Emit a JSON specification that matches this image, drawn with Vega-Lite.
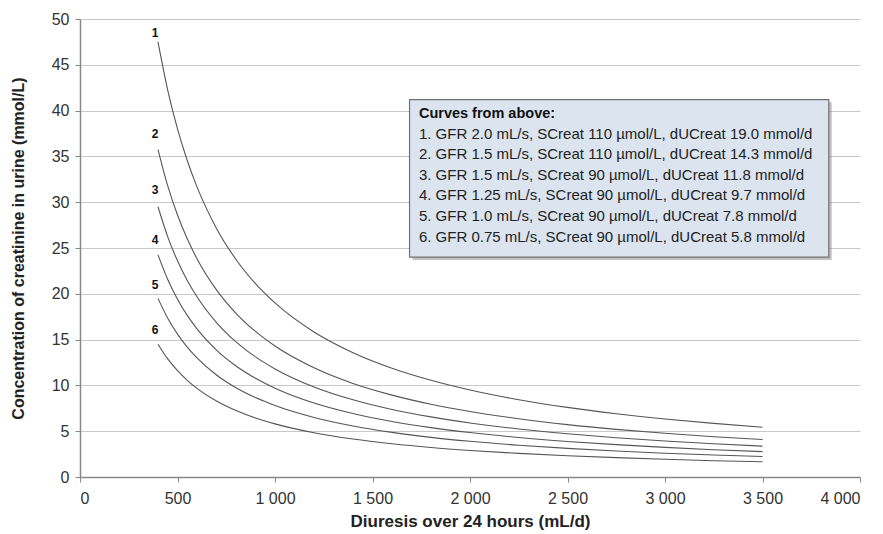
{
  "$schema": "https://vega.github.io/schema/vega-lite/v6.json",
  "width": 780,
  "height": 458,
  "autosize": {"type": "none"},
  "padding": {"left": 80, "top": 19, "right": 23, "bottom": 57},
  "background": "white",
  "config": {
    "font": "Liberation Sans",
    "view": {"stroke": null}
  },
  "datasets": {
    "curves": [
      {"x":400,"k":"1","c":47.5},{"x":450,"k":"1","c":42.22},{"x":500,"k":"1","c":38},{"x":550,"k":"1","c":34.55},{"x":600,"k":"1","c":31.67},{"x":700,"k":"1","c":27.14},{"x":800,"k":"1","c":23.75},{"x":900,"k":"1","c":21.11},{"x":1000,"k":"1","c":19},{"x":1200,"k":"1","c":15.83},{"x":1400,"k":"1","c":13.57},{"x":1600,"k":"1","c":11.875},{"x":1800,"k":"1","c":10.56},{"x":2000,"k":"1","c":9.5},{"x":2250,"k":"1","c":8.44},{"x":2500,"k":"1","c":7.6},{"x":2750,"k":"1","c":6.91},{"x":3000,"k":"1","c":6.33},{"x":3250,"k":"1","c":5.85},{"x":3500,"k":"1","c":5.43},
      {"x":400,"k":"2","c":35.75},{"x":450,"k":"2","c":31.78},{"x":500,"k":"2","c":28.6},{"x":550,"k":"2","c":26.0},{"x":600,"k":"2","c":23.83},{"x":700,"k":"2","c":20.43},{"x":800,"k":"2","c":17.875},{"x":900,"k":"2","c":15.89},{"x":1000,"k":"2","c":14.3},{"x":1200,"k":"2","c":11.92},{"x":1400,"k":"2","c":10.21},{"x":1600,"k":"2","c":8.94},{"x":1800,"k":"2","c":7.94},{"x":2000,"k":"2","c":7.15},{"x":2250,"k":"2","c":6.36},{"x":2500,"k":"2","c":5.72},{"x":2750,"k":"2","c":5.2},{"x":3000,"k":"2","c":4.77},{"x":3250,"k":"2","c":4.4},{"x":3500,"k":"2","c":4.09},
      {"x":400,"k":"3","c":29.5},{"x":450,"k":"3","c":26.22},{"x":500,"k":"3","c":23.6},{"x":550,"k":"3","c":21.45},{"x":600,"k":"3","c":19.67},{"x":700,"k":"3","c":16.86},{"x":800,"k":"3","c":14.75},{"x":900,"k":"3","c":13.11},{"x":1000,"k":"3","c":11.8},{"x":1200,"k":"3","c":9.83},{"x":1400,"k":"3","c":8.43},{"x":1600,"k":"3","c":7.375},{"x":1800,"k":"3","c":6.56},{"x":2000,"k":"3","c":5.9},{"x":2250,"k":"3","c":5.24},{"x":2500,"k":"3","c":4.72},{"x":2750,"k":"3","c":4.29},{"x":3000,"k":"3","c":3.93},{"x":3250,"k":"3","c":3.63},{"x":3500,"k":"3","c":3.37},
      {"x":400,"k":"4","c":24.25},{"x":450,"k":"4","c":21.56},{"x":500,"k":"4","c":19.4},{"x":550,"k":"4","c":17.64},{"x":600,"k":"4","c":16.17},{"x":700,"k":"4","c":13.86},{"x":800,"k":"4","c":12.125},{"x":900,"k":"4","c":10.78},{"x":1000,"k":"4","c":9.7},{"x":1200,"k":"4","c":8.08},{"x":1400,"k":"4","c":6.93},{"x":1600,"k":"4","c":6.06},{"x":1800,"k":"4","c":5.39},{"x":2000,"k":"4","c":4.85},{"x":2250,"k":"4","c":4.31},{"x":2500,"k":"4","c":3.88},{"x":2750,"k":"4","c":3.53},{"x":3000,"k":"4","c":3.23},{"x":3250,"k":"4","c":2.98},{"x":3500,"k":"4","c":2.77},
      {"x":400,"k":"5","c":19.5},{"x":450,"k":"5","c":17.33},{"x":500,"k":"5","c":15.6},{"x":550,"k":"5","c":14.18},{"x":600,"k":"5","c":13.0},{"x":700,"k":"5","c":11.14},{"x":800,"k":"5","c":9.75},{"x":900,"k":"5","c":8.67},{"x":1000,"k":"5","c":7.8},{"x":1200,"k":"5","c":6.5},{"x":1400,"k":"5","c":5.57},{"x":1600,"k":"5","c":4.875},{"x":1800,"k":"5","c":4.33},{"x":2000,"k":"5","c":3.9},{"x":2250,"k":"5","c":3.47},{"x":2500,"k":"5","c":3.12},{"x":2750,"k":"5","c":2.84},{"x":3000,"k":"5","c":2.6},{"x":3250,"k":"5","c":2.4},{"x":3500,"k":"5","c":2.23},
      {"x":400,"k":"6","c":14.5},{"x":450,"k":"6","c":12.89},{"x":500,"k":"6","c":11.6},{"x":550,"k":"6","c":10.55},{"x":600,"k":"6","c":9.67},{"x":700,"k":"6","c":8.29},{"x":800,"k":"6","c":7.25},{"x":900,"k":"6","c":6.44},{"x":1000,"k":"6","c":5.8},{"x":1200,"k":"6","c":4.83},{"x":1400,"k":"6","c":4.14},{"x":1600,"k":"6","c":3.625},{"x":1800,"k":"6","c":3.22},{"x":2000,"k":"6","c":2.9},{"x":2250,"k":"6","c":2.58},{"x":2500,"k":"6","c":2.32},{"x":2750,"k":"6","c":2.11},{"x":3000,"k":"6","c":1.93},{"x":3250,"k":"6","c":1.78},{"x":3500,"k":"6","c":1.66}
    ],
    "labels": [
      {"x":385,"y":48.5,"t":"1"},
      {"x":385,"y":37.5,"t":"2"},
      {"x":385,"y":31.3,"t":"3"},
      {"x":385,"y":25.9,"t":"4"},
      {"x":385,"y":21.0,"t":"5"},
      {"x":385,"y":16.0,"t":"6"}
    ],
    "box": [
      {"x":1690,"x2":3840,"y":41.2,"y2":24.0}
    ],
    "shadow": [
      {"x":1705,"x2":3855,"y":40.9,"y2":23.7}
    ],
    "boxtitle": [
      {"x":1738,"y":39.63,"t":"Curves from above:"}
    ],
    "boxtext": [
      {"x":1738,"y":37.45,"t":"1. GFR 2.0 mL/s, SCreat 110 µmol/L, dUCreat 19.0 mmol/d"},
      {"x":1738,"y":35.26,"t":"2. GFR 1.5 mL/s, SCreat 110 µmol/L, dUCreat 14.3 mmol/d"},
      {"x":1738,"y":32.97,"t":"3. GFR 1.5 mL/s, SCreat 90 µmol/L, dUCreat 11.8 mmol/d"},
      {"x":1738,"y":30.79,"t":"4. GFR 1.25 mL/s, SCreat 90 µmol/L, dUCreat 9.7 mmol/d"},
      {"x":1738,"y":28.49,"t":"5. GFR 1.0 mL/s, SCreat 90 µmol/L, dUCreat 7.8 mmol/d"},
      {"x":1738,"y":26.2,"t":"6. GFR 0.75 mL/s, SCreat 90 µmol/L, dUCreat 5.8 mmol/d"}
    ]
  },
  "layer": [
    {
      "data": {"name": "curves"},
      "mark": {"type": "line", "interpolate": "monotone", "color": "#555555", "strokeWidth": 1.1},
      "encoding": {
        "x": {
          "field": "x", "type": "quantitative",
          "scale": {"domain": [0, 4000], "nice": false},
          "axis": {
            "title": "Diuresis over 24 hours (mL/d)",
            "values": [0,500,1000,1500,2000,2500,3000,3500,4000],
            "labelExpr": "replace(format(datum.value, ','), ',', ' ')",
            "grid": false,
            "domainColor": "#888888", "domainWidth": 1.5,
            "tickColor": "#888888", "tickSize": 5, "tickWidth": 1,
            "labelFontSize": 16, "labelColor": "#333333", "labelPadding": 8,
            "labelFont": "Liberation Sans",
            "titleFontSize": 17, "titleFontWeight": "bold", "titleColor": "#222222",
            "titlePadding": 7, "titleFont": "Liberation Sans"
          }
        },
        "y": {
          "field": "c", "type": "quantitative",
          "scale": {"domain": [0, 50], "nice": false},
          "axis": {
            "title": "Concentration of creatinine in urine (mmol/L)",
            "values": [0,5,10,15,20,25,30,35,40,45,50],
            "grid": true, "gridColor": "#c8c8c8", "gridWidth": 1,
            "domainColor": "#888888", "domainWidth": 1.5,
            "tickColor": "#888888", "tickSize": 5, "tickWidth": 1,
            "labelFontSize": 16, "labelColor": "#333333", "labelPadding": 6,
            "labelFont": "Liberation Sans",
            "titleFontSize": 16, "titleFontWeight": "bold", "titleColor": "#222222",
            "titlePadding": 25, "titleFont": "Liberation Sans"
          }
        },
        "detail": {"field": "k"}
      }
    },
    {
      "data": {"name": "labels"},
      "mark": {"type": "text", "fontWeight": "bold", "fontSize": 12, "color": "#111111", "align": "center", "baseline": "middle"},
      "encoding": {
        "x": {"field": "x", "type": "quantitative"},
        "y": {"field": "y", "type": "quantitative"},
        "text": {"field": "t"}
      }
    },
    {
      "data": {"name": "shadow"},
      "mark": {"type": "rect", "fill": "#9a9a9a", "opacity": 0.6},
      "encoding": {
        "x": {"field": "x", "type": "quantitative"},
        "x2": {"field": "x2"},
        "y": {"field": "y", "type": "quantitative"},
        "y2": {"field": "y2"}
      }
    },
    {
      "data": {"name": "box"},
      "mark": {"type": "rect", "fill": "#dbe4ef", "stroke": "#707070", "strokeWidth": 1.2},
      "encoding": {
        "x": {"field": "x", "type": "quantitative"},
        "x2": {"field": "x2"},
        "y": {"field": "y", "type": "quantitative"},
        "y2": {"field": "y2"}
      }
    },
    {
      "data": {"name": "boxtitle"},
      "mark": {"type": "text", "fontSize": 14.5, "fontWeight": "bold", "color": "#111111", "align": "left", "baseline": "middle"},
      "encoding": {
        "x": {"field": "x", "type": "quantitative"},
        "y": {"field": "y", "type": "quantitative"},
        "text": {"field": "t"}
      }
    },
    {
      "data": {"name": "boxtext"},
      "mark": {"type": "text", "fontSize": 15, "color": "#222222", "align": "left", "baseline": "middle"},
      "encoding": {
        "x": {"field": "x", "type": "quantitative"},
        "y": {"field": "y", "type": "quantitative"},
        "text": {"field": "t"}
      }
    }
  ]
}
